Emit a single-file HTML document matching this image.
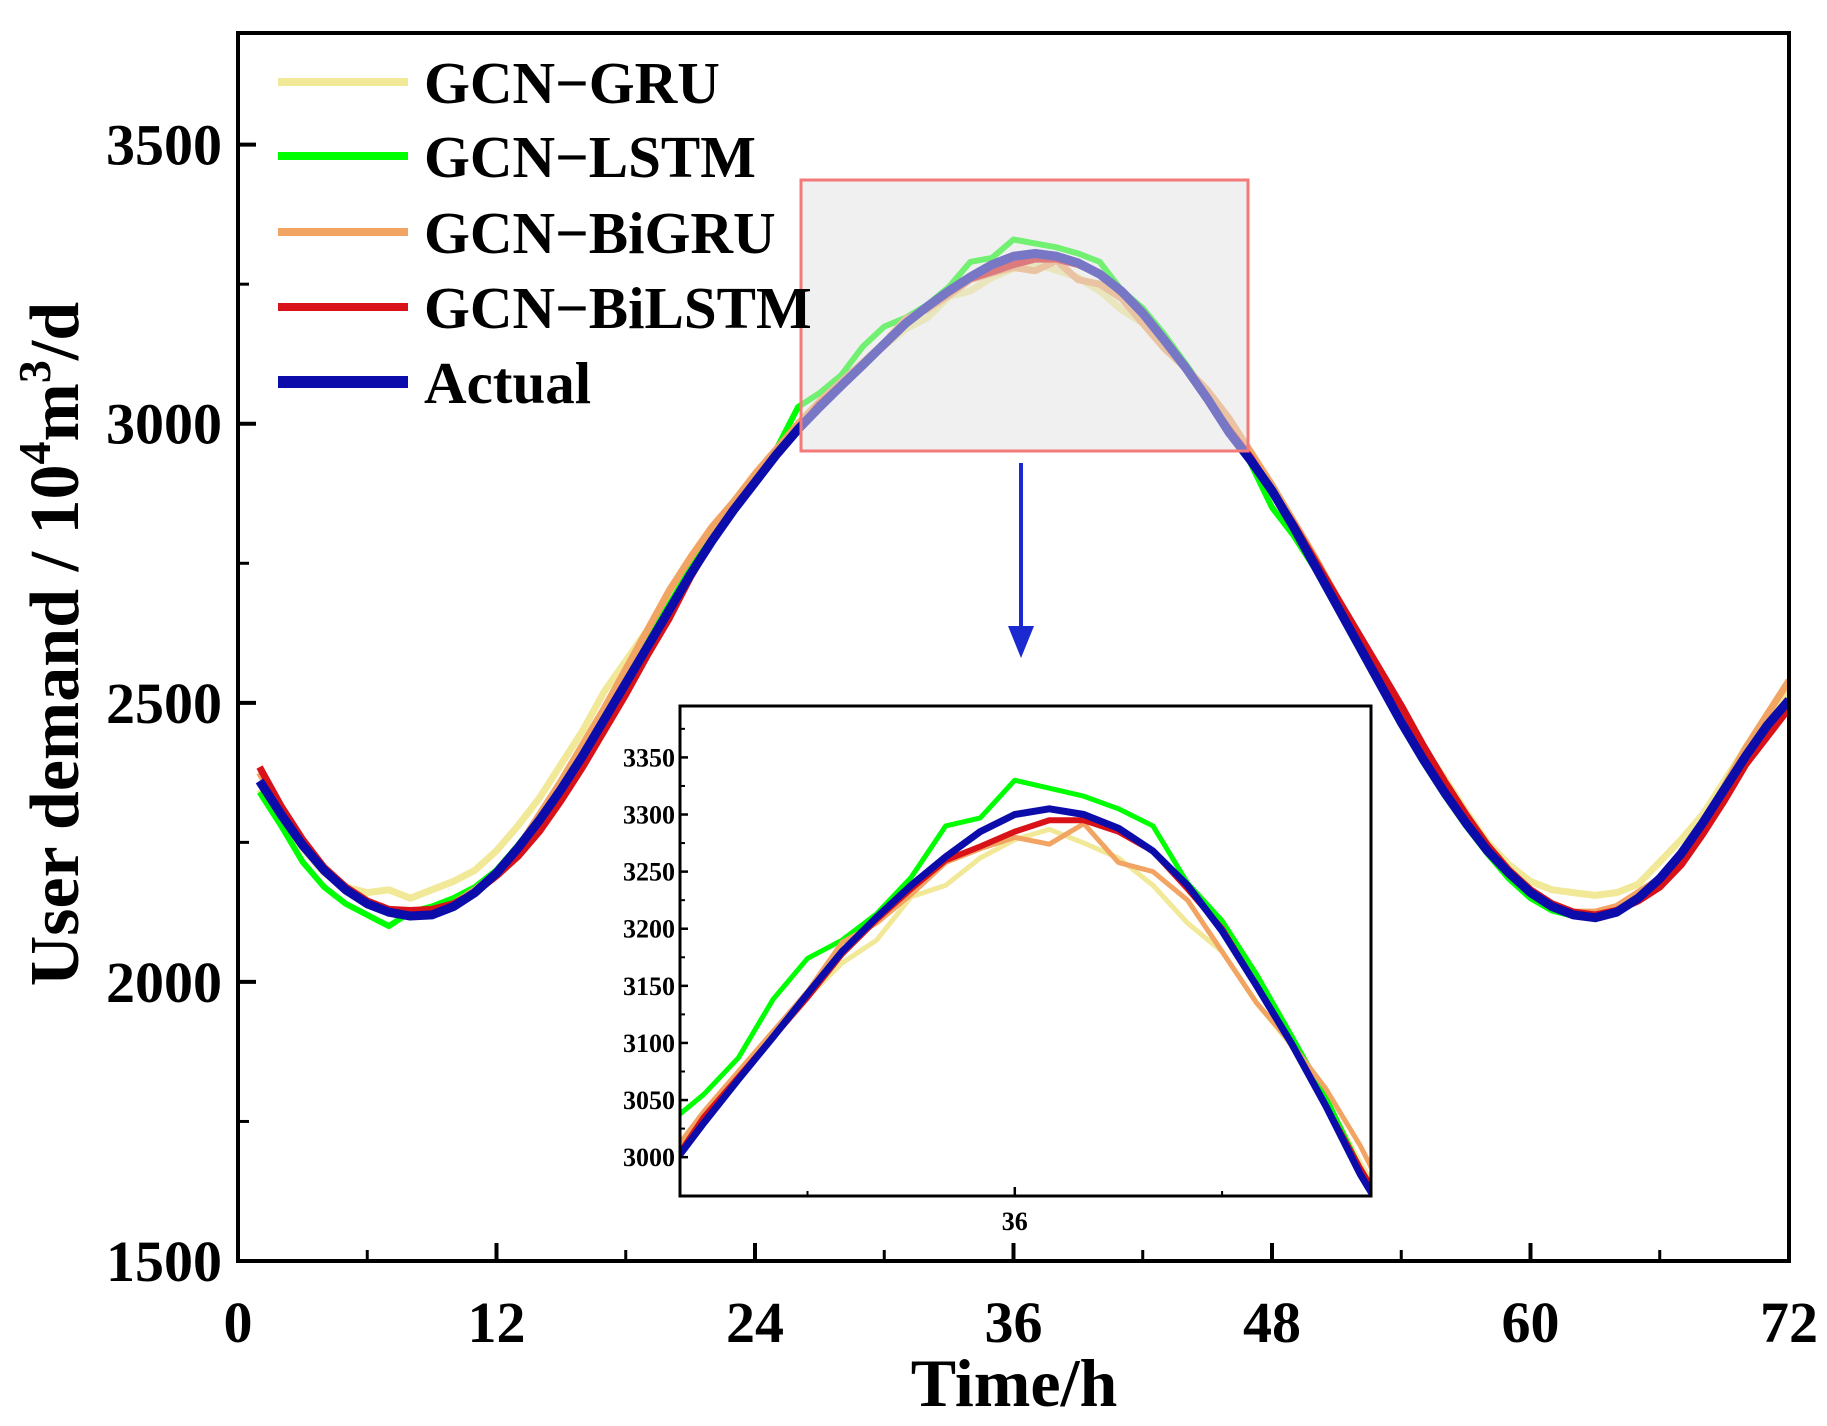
<!DOCTYPE html>
<html><head><meta charset="utf-8">
<style>
html,body{margin:0;padding:0;background:#fff;overflow:hidden;width:1827px;height:1426px;}
svg{display:block;font-family:"Liberation Serif",serif;font-weight:bold;}
</style></head>
<body>
<svg id="chart" width="1827" height="1426" viewBox="0 0 1827 1426" xmlns="http://www.w3.org/2000/svg">
<defs>
<clipPath id="mainClip"><rect x="238" y="33" width="1551" height="1228"/></clipPath>
<clipPath id="insetClip"><rect x="680" y="706" width="691" height="490"/></clipPath>
</defs>
<g id="mainLines" clip-path="url(#mainClip)"></g>
<rect x="801" y="180" width="447" height="271" fill="rgba(225,225,225,0.5)" stroke="#f47a7a" stroke-width="3"/>
<g id="axes"></g>
<g id="legend"></g>
<g>
<line x1="1021" y1="463" x2="1021" y2="630" stroke="#1a2ad0" stroke-width="4"/>
<polygon points="1008,626 1034,626 1021,658" fill="#1a2ad0"/>
</g>
<rect x="680" y="706" width="691" height="490" fill="#fff"/>
<g id="insetLines" clip-path="url(#insetClip)"></g>
<g id="insetAxes"></g>
<text x="1014" y="1406" font-size="68" text-anchor="middle">Time/h</text>
<text transform="translate(78,644) rotate(-90)" font-size="70" text-anchor="middle">User demand / 10<tspan font-size="46" dy="-28">4</tspan><tspan dy="28">m</tspan><tspan font-size="46" dy="-28">3</tspan><tspan dy="28">/d</tspan></text>
</svg>
<script>
const hours = [1,2,3,4,5,6,7,8,9,10,11,12,13,14,15,16,17,18,19,20,21,22,23,24,25,26,27,28,29,30,31,32,33,34,35,36,37,38,39,40,41,42,43,44,45,46,47,48,49,50,51,52,53,54,55,56,57,58,59,60,61,62,63,64,65,66,67,68,69,70,71,72];
const gcnGru = [2345,2290,2240,2195,2170,2160,2165,2150,2165,2180,2200,2235,2280,2330,2390,2450,2520,2575,2630,2690,2750,2805,2860,2905,2950,2995,3040,3075,3110,3140,3170,3190,3228,3238,3262,3278,3287,3275,3262,3238,3205,3180,3135,3098,3050,2995,2945,2880,2820,2760,2690,2620,2550,2480,2420,2365,2305,2250,2210,2180,2165,2160,2155,2160,2175,2215,2255,2300,2360,2420,2470,2520];
const gcnLstm = [2340,2280,2215,2170,2140,2120,2100,2125,2135,2150,2170,2200,2245,2295,2350,2410,2475,2540,2610,2675,2740,2800,2855,2905,2955,3030,3055,3087,3138,3174,3190,3213,3245,3290,3297,3330,3323,3316,3305,3290,3240,3207,3160,3107,3053,2990,2930,2850,2800,2740,2670,2600,2530,2460,2395,2335,2280,2230,2185,2150,2128,2118,2115,2122,2148,2182,2228,2280,2340,2400,2455,2500];
const gcnBigru = [2375,2305,2250,2205,2170,2145,2130,2125,2125,2140,2165,2195,2240,2300,2360,2425,2490,2560,2630,2700,2760,2815,2860,2910,2955,3000,3040,3075,3110,3145,3188,3205,3230,3258,3270,3280,3274,3292,3258,3250,3225,3180,3135,3100,3060,3010,2950,2890,2825,2760,2690,2620,2550,2480,2410,2350,2290,2240,2200,2165,2140,2125,2125,2135,2160,2185,2230,2285,2350,2420,2480,2540];
const gcnBilstm = [2385,2315,2255,2205,2170,2145,2130,2128,2130,2140,2160,2190,2225,2270,2325,2385,2450,2515,2585,2650,2725,2790,2845,2895,2945,2990,3035,3070,3105,3140,3178,3208,3235,3260,3272,3285,3295,3295,3285,3268,3235,3200,3150,3100,3045,2990,2940,2880,2820,2755,2690,2625,2560,2495,2425,2360,2300,2245,2200,2165,2140,2125,2120,2128,2145,2170,2210,2265,2325,2390,2440,2490];
const actual = [2360,2300,2245,2200,2165,2140,2125,2118,2120,2135,2160,2195,2240,2290,2345,2405,2470,2535,2600,2665,2730,2790,2845,2895,2945,2990,3030,3068,3105,3143,3180,3210,3238,3263,3285,3300,3305,3300,3288,3268,3238,3198,3150,3100,3045,2985,2935,2880,2815,2745,2675,2605,2535,2465,2400,2340,2285,2235,2195,2160,2135,2120,2115,2125,2150,2185,2230,2285,2345,2405,2460,2505];
const seriesNames = ["GCN\u2212GRU","GCN\u2212LSTM","GCN\u2212BiGRU","GCN\u2212BiLSTM","Actual"];
const xTicks = [0,12,24,36,48,60,72];
const yTicks = [1500,2000,2500,3000,3500];
const insetYTicks = [3000,3050,3100,3150,3200,3250,3300,3350];
const insetXTicks = [36];

const NS="http://www.w3.org/2000/svg";
function mk(tag,attrs,parent){const e=document.createElementNS(NS,tag);for(const k in attrs)e.setAttribute(k,attrs[k]);parent.appendChild(e);return e;}
const X=v=>238+(v-0)/72*1551;
const Y=v=>1261-(v-1500)/2200*1228;
const IX=v=>680+(v-26.31)/20*691;
const IY=v=>1196-(v-2966)/429*490;

const allSeries=[gcnGru,gcnLstm,gcnBigru,gcnBilstm,actual];
const colors=["#f1e898","#00ff00","#f2a463","#d81218","#0c0caa"];
const widths=[7,6,7,7,9];
const iwidths=[5,5,5,6,7];
const keys=["gcn-gru","gcn-lstm","gcn-bigru","gcn-bilstm","actual"];
const mainG=document.getElementById('mainLines');
const insetG=document.getElementById('insetLines');
allSeries.forEach((s,i)=>{
  const p=mk('polyline',{points:s.map((v,j)=>X(hours[j])+','+Y(v)).join(' '),fill:'none',stroke:colors[i],'stroke-width':widths[i],'stroke-linejoin':'round'},mainG);
  
  
  const q=mk('polyline',{points:s.map((v,j)=>IX(hours[j])+','+IY(v)).join(' '),fill:'none',stroke:colors[i],'stroke-width':iwidths[i],'stroke-linejoin':'round'},insetG);
  
  
});

const ax=document.getElementById('axes');
const frame=mk('rect',{x:238,y:33,width:1551,height:1228,fill:'none',stroke:'#000','stroke-width':4},ax);


xTicks.forEach(t=>{
  const l=mk('line',{x1:X(t),x2:X(t),y1:1261,y2:1243,stroke:'#000','stroke-width':4},ax);
  
  
  const tx=mk('text',{x:X(t),y:1342,'font-size':58,'text-anchor':'middle'},ax);
  tx.textContent=t;
  
  
  if(t<72){const m=mk('line',{x1:X(t+6),x2:X(t+6),y1:1261,y2:1250,stroke:'#000','stroke-width':3},ax);
  
  }
});
yTicks.forEach(t=>{
  const l=mk('line',{x1:238,x2:256,y1:Y(t),y2:Y(t),stroke:'#000','stroke-width':4},ax);
  
  
  const tx=mk('text',{x:222,y:Y(t)+20,'font-size':58,'text-anchor':'end'},ax);
  tx.textContent=t;
  
  
  if(t<3500){const m=mk('line',{x1:238,x2:249,y1:Y(t+250),y2:Y(t+250),stroke:'#000','stroke-width':3},ax);
  
  }
});

const lg=document.getElementById('legend');
const ly=[82,156,232,307,382];
seriesNames.forEach((n,i)=>{
  const l=mk('line',{x1:278,x2:408,y1:ly[i],y2:ly[i],stroke:colors[i],'stroke-width':i==4?12:8},lg);
  
  
  const t=mk('text',{x:424,y:ly[i]+21,'font-size':59},lg);
  t.textContent=n;
  
  
});

const ia=document.getElementById('insetAxes');
const iframe=mk('rect',{x:680,y:706,width:691,height:490,fill:'none',stroke:'#000','stroke-width':3},ia);


insetYTicks.forEach(t=>{
  const l=mk('line',{x1:680,x2:688,y1:IY(t),y2:IY(t),stroke:'#000','stroke-width':2.5},ia);
  
  
  const tx=mk('text',{x:675,y:IY(t)+9,'font-size':26,'text-anchor':'end'},ia);
  tx.textContent=t;
  
  
  const m=mk('line',{x1:680,x2:685,y1:IY(t+25),y2:IY(t+25),stroke:'#000','stroke-width':2},ia);
  
  
});
insetXTicks.forEach(t=>{
  const l=mk('line',{x1:IX(t),x2:IX(t),y1:1196,y2:1187,stroke:'#000','stroke-width':2.5},ia);
  
  
  const tx=mk('text',{x:IX(t),y:1230,'font-size':26,'text-anchor':'middle'},ia);
  tx.textContent=t;
  
  
  [t-6,t+6].forEach(u=>{const m=mk('line',{x1:IX(u),x2:IX(u),y1:1196,y2:1191,stroke:'#000','stroke-width':2},ia);
  
  });
});
</script>
</body></html>
